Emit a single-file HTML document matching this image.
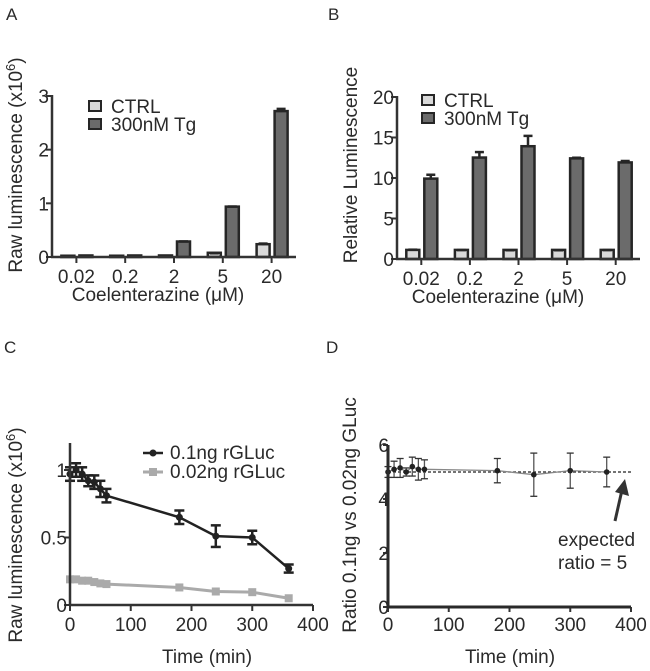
<!DOCTYPE html>
<html><head><meta charset="utf-8"><style>
body{margin:0;background:#fff}
svg{display:block;font-family:"Liberation Sans",sans-serif;fill:#222}
text{fill:#2a2a2a}
</style></head><body>
<svg id="s" width="650" height="671" viewBox="0 0 650 671"></svg>
<script>
const barCats=["0.02","0.2","2","5","20"];
const aCtrl=[0.005,0.005,0.01,0.06,0.22];
const aCtrlErr=[0.003,0.003,0.004,0.01,0.03];
const aTg=[0.01,0.01,0.27,0.92,2.7];
const aTgErr=[0.004,0.004,0.02,0.02,0.06];
const aTicks=[0,1,2,3];
const bCtrl=[1,1,1,1,1];
const bCtrlErr=[0.15,0.1,0.08,0.08,0.1];
const bTg=[9.8,12.4,13.8,12.3,11.8];
const bTgErr=[0.6,0.8,1.4,0.2,0.3];
const bTicks=[0,5,10,15,20];
const cTimes=[0,10,20,30,40,50,60,180,240,300,360];
const cHigh=[0.97,1.0,0.97,0.92,0.91,0.86,0.81,0.65,0.51,0.50,0.27];
const cHighErr=[0.05,0.05,0.05,0.04,0.05,0.06,0.05,0.05,0.08,0.05,0.03];
const cLow=[0.19,0.19,0.18,0.18,0.17,0.16,0.155,0.13,0.10,0.095,0.05];
const cYTicks=[0,0.5,1];
const tTicks=[0,100,200,300,400];
const dRatio=[5.0,5.1,5.15,5.0,5.2,5.1,5.1,5.05,4.9,5.05,5.0];
const dErr=[0.2,0.3,0.35,0.15,0.35,0.4,0.35,0.45,0.8,0.65,0.55];
const dYTicks=[0,2,4,6];

const FS=19;
const NS="http://www.w3.org/2000/svg",S=document.getElementById('s');
function el(t,a,p){const e=document.createElementNS(NS,t);for(const k in a)e.setAttribute(k,a[k]);(p||S).appendChild(e);return e;}
function txt(x,y,s,a,p){const e=el('text',Object.assign({x:x,y:y,'font-size':FS},a||{}),p);e.textContent=s;return e;}
function grp(name){const g=el('g',{});return g;}

[["A",6,20],["B",328,20],["C",4,353],["D",326,353]].forEach(l=>{const t=txt(l[1],l[2],l[0],{'font-size':17});});

function barPanel(name,x0,x1,y0,yTop,vmax,ticks,ctrl,ctrlE,tg,tgE,legX,legY,ylabel,ylx,yly,sup,xtc){
  const g=grp(name);
  const sy=v=>y0-(v/vmax)*(y0-yTop);
  const band=(x1-x0)/barCats.length;
  const cx=i=>x0+band*(i+0.5);
  barCats.forEach((c,i)=>{
    [[ctrl,ctrlE,'#d9d9d9',-15],[tg,tgE,'#6b6b6b',3]].forEach(s=>{
      const v=s[0][i],e=s[1][i],bx=cx(i)+s[3];
      const r=el('rect',{x:bx,y:sy(v)-1,width:13,height:Math.max(y0-sy(v)+1,1),fill:s[2],stroke:'#262626','stroke-width':2.5},g);
      
      
      el('line',{x1:bx+6.5,x2:bx+6.5,y1:sy(v+e),y2:sy(v),stroke:'#262626','stroke-width':2.5},g);
      el('line',{x1:bx+2,x2:bx+11,y1:sy(v+e),y2:sy(v+e),stroke:'#262626','stroke-width':2.5},g);
    });
    el('line',{x1:cx(i),x2:cx(i),y1:y0,y2:y0+6,stroke:'#333','stroke-width':2},g);
    const t=txt(cx(i),y0+26,c,{'text-anchor':'middle'},g);
    
  });
  ticks.forEach(v=>{el('line',{x1:x0-6,x2:x0,y1:sy(v),y2:sy(v),stroke:'#333','stroke-width':2},g);
    const t=txt(x0-3,sy(v)+7,String(v),{'text-anchor':'end'},g);});
  el('line',{x1:x0,x2:x0,y1:yTop-1,y2:y0+1,stroke:'#333','stroke-width':2.5},g);
  el('line',{x1:x0-1,x2:x1,y1:y0,y2:y0,stroke:'#333','stroke-width':2.5},g);
  const lg=el('g',{},g);
  el('rect',{x:legX,y:legY,width:12,height:10,fill:'#d9d9d9',stroke:'#262626','stroke-width':2},lg);
  txt(legX+22,legY+12,'CTRL',{},lg);
  el('rect',{x:legX,y:legY+18,width:12,height:10,fill:'#6b6b6b',stroke:'#262626','stroke-width':2},lg);
  txt(legX+22,legY+30,'300nM Tg',{},lg);
  const xt=txt(xtc,y0+44,'Coelenterazine (μM)',{'text-anchor':'middle'},g);
  
  const yt=txt(ylx,yly,ylabel,{'text-anchor':'middle',transform:`rotate(-90 ${ylx} ${yly})`},g);
  if(sup){const ts=el('tspan',{dy:-7,'font-size':13},yt);ts.textContent='6';const t2=el('tspan',{dy:7},yt);t2.textContent=')';}
  
}
barPanel('panel-a',52,296,257,96,3,aTicks,aCtrl,aCtrlErr,aTg,aTgErr,89,101,'Raw luminescence (x10',22,165,true,158);
barPanel('panel-b',397,640,259,97,20,bTicks,bCtrl,bCtrlErr,bTg,bTgErr,422,95,'Relative Luminescence',357,165,false,498);

(function(){
  const g=grp('panel-c');const x0=70,x1=313,y0=605,yTop=443;
  const sx=t=>x0+t*(x1-x0)/400, sy=v=>y0-v*135;
  const pts=a=>cTimes.map((t,i)=>sx(t)+','+sy(a[i])).join(' ');
  const lo=el('polyline',{points:pts(cLow),fill:'none',stroke:'#aaa','stroke-width':3},g);
  
  cTimes.forEach((t,i)=>el('rect',{x:sx(t)-4,y:sy(cLow[i])-4,width:8,height:8,fill:'#aaa'},g));
  const hi=el('polyline',{points:pts(cHigh),fill:'none',stroke:'#222','stroke-width':2.5},g);
  
  cTimes.forEach((t,i)=>{const x=sx(t),v=cHigh[i],e=cHighErr[i];
    el('line',{x1:x,x2:x,y1:sy(v+e),y2:sy(v-e),stroke:'#222','stroke-width':2.5},g);
    [v+e,v-e].forEach(w=>el('line',{x1:x-5,x2:x+5,y1:sy(w),y2:sy(w),stroke:'#222','stroke-width':2.5},g));
    el('circle',{cx:x,cy:sy(v),r:3.5,fill:'#222'},g);});
  cYTicks.forEach(v=>{el('line',{x1:x0-6,x2:x0,y1:sy(v),y2:sy(v),stroke:'#333','stroke-width':2},g);
    txt(x0-3,sy(v)+7,String(v),{'text-anchor':'end'},g);});
  tTicks.forEach(t=>{el('line',{x1:sx(t),x2:sx(t),y1:y0,y2:y0+6,stroke:'#333','stroke-width':2},g);
    txt(sx(t),y0+26,String(t),{'text-anchor':'middle'},g);});
  el('line',{x1:x0,x2:x0,y1:yTop,y2:y0+1,stroke:'#333','stroke-width':2.5},g);
  el('line',{x1:x0-1,x2:x1,y1:y0,y2:y0,stroke:'#333','stroke-width':2.5},g);
  const lg=el('g',{},g);
  el('line',{x1:143,x2:163,y1:453,y2:453,stroke:'#222','stroke-width':2.5},lg);el('circle',{cx:153,cy:453,r:3.5,fill:'#222'},lg);
  txt(170,459,'0.1ng rGLuc',{},lg);
  el('line',{x1:143,x2:163,y1:472,y2:472,stroke:'#aaa','stroke-width':3},lg);el('rect',{x:149,y:468,width:8,height:8,fill:'#aaa'},lg);
  txt(170,478,'0.02ng rGLuc',{},lg);
  const xt=txt(207,663,'Time (min)',{'text-anchor':'middle'},g);
  const yt=txt(22,535,'Raw luminescence (x10',{'text-anchor':'middle',transform:'rotate(-90 22 535)'},g);
  const ts=el('tspan',{dy:-7,'font-size':13},yt);ts.textContent='6';const t2=el('tspan',{dy:7},yt);t2.textContent=')';
  
})();

(function(){
  const g=grp('panel-d');const x0=388,x1=631,y0=607,yTop=445;
  const sx=t=>x0+t*(x1-x0)/400, sy=v=>y0-v*(y0-yTop)/6;
  const ref=el('line',{x1:sx(0),x2:sx(400),y1:sy(5),y2:sy(5),stroke:'#222','stroke-width':1.3,'stroke-dasharray':'3,2'},g);
  
  const ln=el('polyline',{points:cTimes.map((t,i)=>sx(t)+','+sy(dRatio[i])).join(' '),fill:'none',stroke:'#888','stroke-width':1.3},g);
  
  cTimes.forEach((t,i)=>{const x=sx(t),v=dRatio[i],e=dErr[i];
    el('line',{x1:x,x2:x,y1:sy(v+e),y2:sy(v-e),stroke:'#555','stroke-width':1.3},g);
    [v+e,v-e].forEach(w=>el('line',{x1:x-3.5,x2:x+3.5,y1:sy(w),y2:sy(w),stroke:'#333','stroke-width':1.3},g));
    el('circle',{cx:x,cy:sy(v),r:2.8,fill:'#222'},g);});
  dYTicks.forEach(v=>{el('line',{x1:x0-5,x2:x0,y1:sy(v),y2:sy(v),stroke:'#333','stroke-width':2},g);
    txt(x0+1,sy(v)+7,String(v),{'text-anchor':'end'},g);});
  tTicks.forEach(t=>{el('line',{x1:sx(t),x2:sx(t),y1:y0,y2:y0+5,stroke:'#333','stroke-width':2},g);
    txt(sx(t),y0+24,String(t),{'text-anchor':'middle'},g);});
  el('line',{x1:x0,x2:x0,y1:yTop,y2:y0+1,stroke:'#2a2a2a','stroke-width':3},g);
  el('line',{x1:x0-1,x2:x1,y1:y0,y2:y0,stroke:'#2a2a2a','stroke-width':3},g);
  const ar=el('g',{},g);
  el('line',{x1:615,y1:521,x2:622,y2:490,stroke:'#333','stroke-width':3},ar);
  el('polygon',{points:'625,479 629,496 615,492',fill:'#333'},ar);
  const an=el('g',{},g);
  txt(558,546,'expected',{},an);txt(558,569,'ratio = 5',{},an);
  const xt=txt(510,663,'Time (min)',{'text-anchor':'middle'},g);
  const yt=txt(356,515,'Ratio 0.1ng vs 0.02ng GLuc',{'text-anchor':'middle',transform:'rotate(-90 356 515)'},g);
  
})();
</script>
</body></html>
